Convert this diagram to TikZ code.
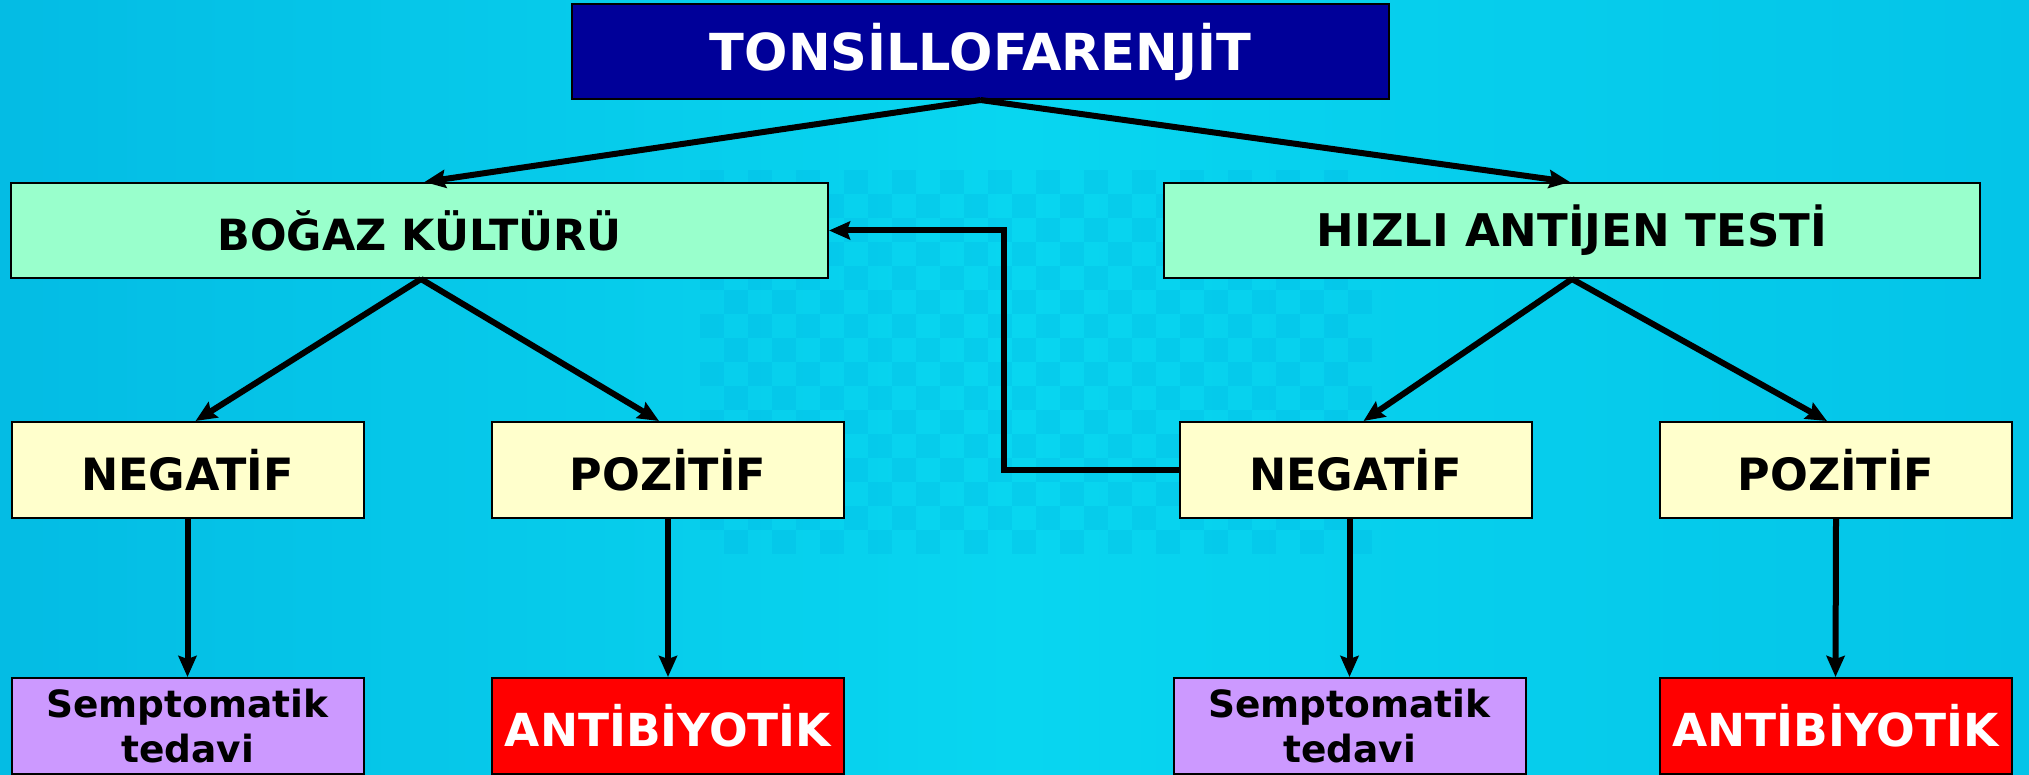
\documentclass[tikz,border=0pt]{standalone}
\usepackage{fontspec}
\setmainfont{DejaVu Sans}
\usetikzlibrary{arrows.meta,calc}
\definecolor{bgL}{RGB}{4,188,228}
\definecolor{bgM}{RGB}{8,214,240}
\definecolor{bgR}{RGB}{4,196,232}
\definecolor{bgdark}{RGB}{0,168,222}
\definecolor{topblue}{RGB}{0,0,153}
\definecolor{mint}{RGB}{153,255,204}
\definecolor{cream}{RGB}{255,255,204}
\definecolor{lilac}{RGB}{204,153,255}
\definecolor{redbox}{RGB}{255,0,0}
\tikzset{
  box/.style={draw=black, line width=2pt, inner sep=0pt, align=center, font=\bfseries},
  topbox/.style={box, fill=topblue, text=white, minimum width=817pt, minimum height=95pt, font=\bfseries\fontsize{51}{60}\selectfont},
  testbox/.style={box, fill=mint, minimum width=817pt, minimum height=95pt},
  resbox/.style={box, fill=cream, minimum width=352pt, minimum height=96pt, font=\bfseries\fontsize{44.5}{50}\selectfont},
  symbox/.style={box, fill=lilac, minimum width=352pt, minimum height=96pt, font=\bfseries\fontsize{37.5}{45}\selectfont},
  abbox/.style={box, fill=redbox, text=white, minimum width=352pt, minimum height=96pt, font=\bfseries\fontsize{45.5}{50}\selectfont},
  arr/.style={line width=6pt, -{Stealth[length=21pt,width=18pt,inset=3pt]}}
}
\begin{document}
\begin{tikzpicture}[x=1pt,y=-1pt]
\useasboundingbox (0,0) rectangle (2029,775);
\shade[left color=bgL, right color=bgR, middle color=bgM] (0,0) rectangle (2029,775);
% faint checker texture
\foreach \i in {0,...,27}{
  \foreach \j in {0,...,15}{
    \pgfmathtruncatemacro{\chk}{mod(\i+\j,2)}
    \ifnum\chk=0
      \fill[bgdark, opacity=0.18] ({700+\i*24},{170+\j*24}) rectangle ++(24,24);
    \fi
  }
}

\node[topbox] (top) at (980.5,51.5) {TONSİLLOFARENJİT};
\node[testbox, font=\bfseries\fontsize{43}{50}\selectfont] (bog) at (419.5,230.5) {BOĞAZ KÜLTÜRÜ};
\node[testbox, minimum width=816pt, font=\bfseries\fontsize{45}{50}\selectfont] (hiz) at (1572,230.5) {HIZLI ANTİJEN TESTİ};

\node[resbox] (negL) at (187.5,470) {NEGATİF};
\node[resbox] (pozL) at (668,470) {POZİTİF};
\node[resbox] (negR) at (1355.5,470) {NEGATİF};
\node[resbox] (pozR) at (1836,470) {POZİTİF};

\node[symbox] (semL) at (187.5,726) {Semptomatik\\tedavi};
\node[abbox] (antL) at (668,726) {ANTİBİYOTİK};
\node[symbox] (semR) at (1349.5,726) {Semptomatik\\tedavi};
\node[abbox] (antR) at (1835.5,726) {ANTİBİYOTİK};

\draw[arr] (top.south) -- ([xshift=5pt]bog.north);
\draw[arr] (top.south) -- ([xshift=-2pt]hiz.north);
\draw[arr] ([xshift=1.5pt]bog.south) -- ([xshift=8pt]negL.north);
\draw[arr] ([xshift=1.5pt]bog.south) -- ([xshift=-9pt]pozL.north);
\draw[arr] (hiz.south) -- ([xshift=8pt]negR.north);
\draw[arr] (hiz.south) -- ([xshift=-9pt]pozR.north);

\draw[arr] (negL.south) -- (semL.north);
\draw[arr] (pozL.south) -- (antL.north);
\draw[arr] (semR.north |- negR.south) -- (semR.north);
\draw[arr] (pozR.south) -- (antR.north);

\coordinate (elb) at (1004,230.5);
\draw[arr] (negR.west) -| (elb) -- (bog.east);
\end{tikzpicture}
\end{document}
